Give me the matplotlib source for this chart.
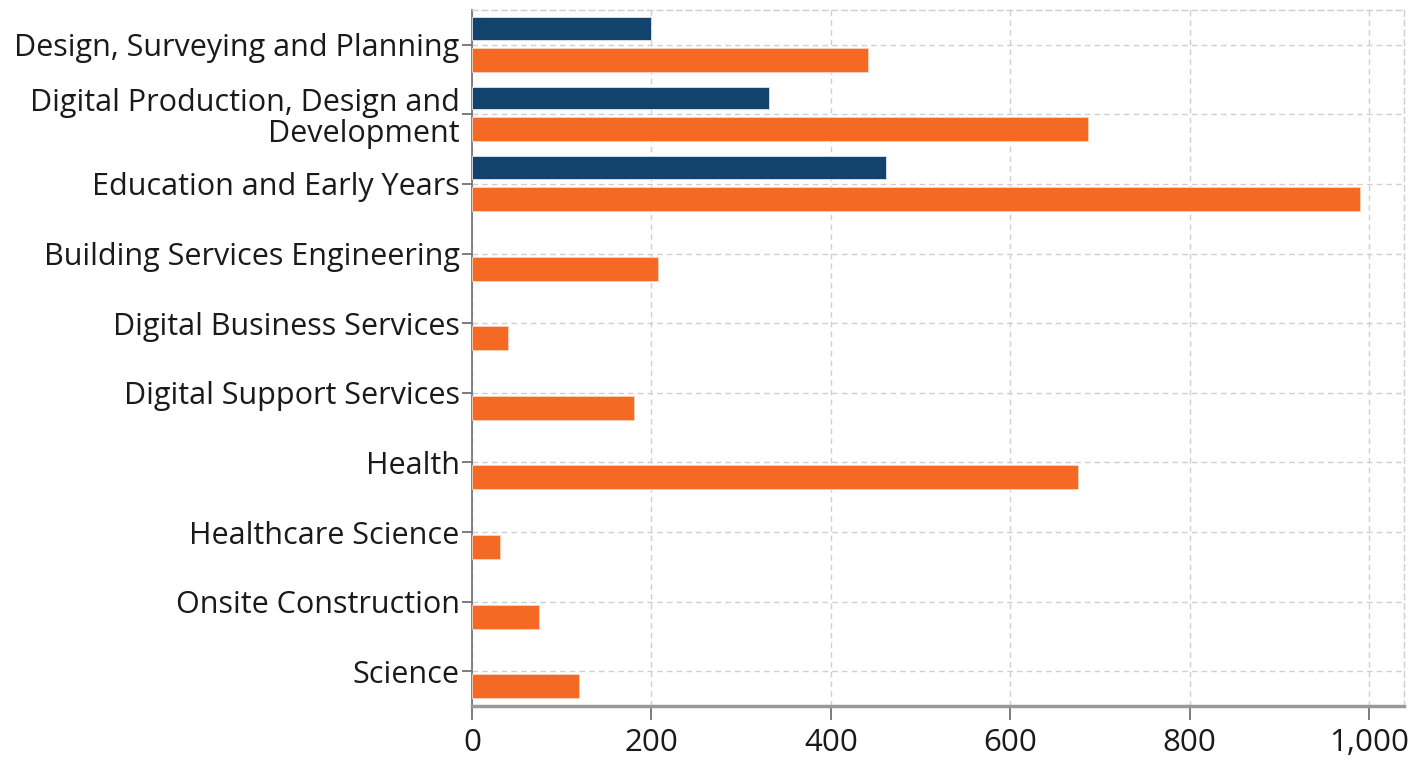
import numpy as np
import matplotlib.pyplot as plt
from matplotlib.ticker import FuncFormatter

categories = [
    'Design, Surveying and Planning',
    'Digital Production, Design and\nDevelopment',
    'Education and Early Years',
    'Building Services Engineering',
    'Digital Business Services',
    'Digital Support Services',
    'Health',
    'Healthcare Science',
    'Onsite Construction',
    'Science',
]
navy_values = [199, 331, 462, np.nan, np.nan, np.nan, np.nan, np.nan, np.nan, np.nan]
orange_values = [441, 687, 990, 207, 40, 181, 675, 31, 75, 119]
x_ticks = [0, 200, 400, 600, 800, 1000]

navy = '#12436D'
orange = '#F46A25'
grid_col = '#cfcfcf'

plt.rcParams['font.family'] = ['Open Sans', 'DejaVu Sans']

fig = plt.figure(figsize=(14.09, 7.65), dpi=100)
ax = fig.add_axes([0.335, 0.0771, 0.9965 - 0.335, 0.987 - 0.0771])

y = np.arange(len(categories))
ax.barh(y - 0.235, navy_values, height=0.33, color=navy, edgecolor='#dfe6ee', linewidth=0.6, zorder=3)
ax.barh(y + 0.215, orange_values, height=0.345, color=orange, edgecolor='#fbd3bf', linewidth=0.6, zorder=3)

ax.set_ylim(len(categories) - 0.5, -0.5)
ax.set_xlim(0, 1039)
ax.set_yticks(y)
ax.set_yticklabels(categories, fontsize=22, color='#1a1a1a', linespacing=1.05)
ax.set_xticks(x_ticks)
ax.xaxis.set_major_formatter(FuncFormatter(lambda v, p: f'{int(v):,}'))
ax.tick_params(axis='x', labelsize=22.5, length=10, width=1.2, color='#666666', pad=6, labelcolor='#1a1a1a')
ax.tick_params(axis='y', length=7, width=1.2, color='#666666', pad=2)

ax.grid(True, linestyle=(0, (4, 3)), color=grid_col, linewidth=1, zorder=0)
ax.set_axisbelow(True)
for s in ['top', 'right']:
    ax.spines[s].set_linestyle((0, (4, 3)))
    ax.spines[s].set_color(grid_col)
    ax.spines[s].set_linewidth(1)
ax.spines['left'].set_color('#777777')
ax.spines['left'].set_linewidth(1.3)
ax.spines['bottom'].set_color('#999999')
ax.spines['bottom'].set_linewidth(2.5)

plt.savefig('out.png', dpi=100)
